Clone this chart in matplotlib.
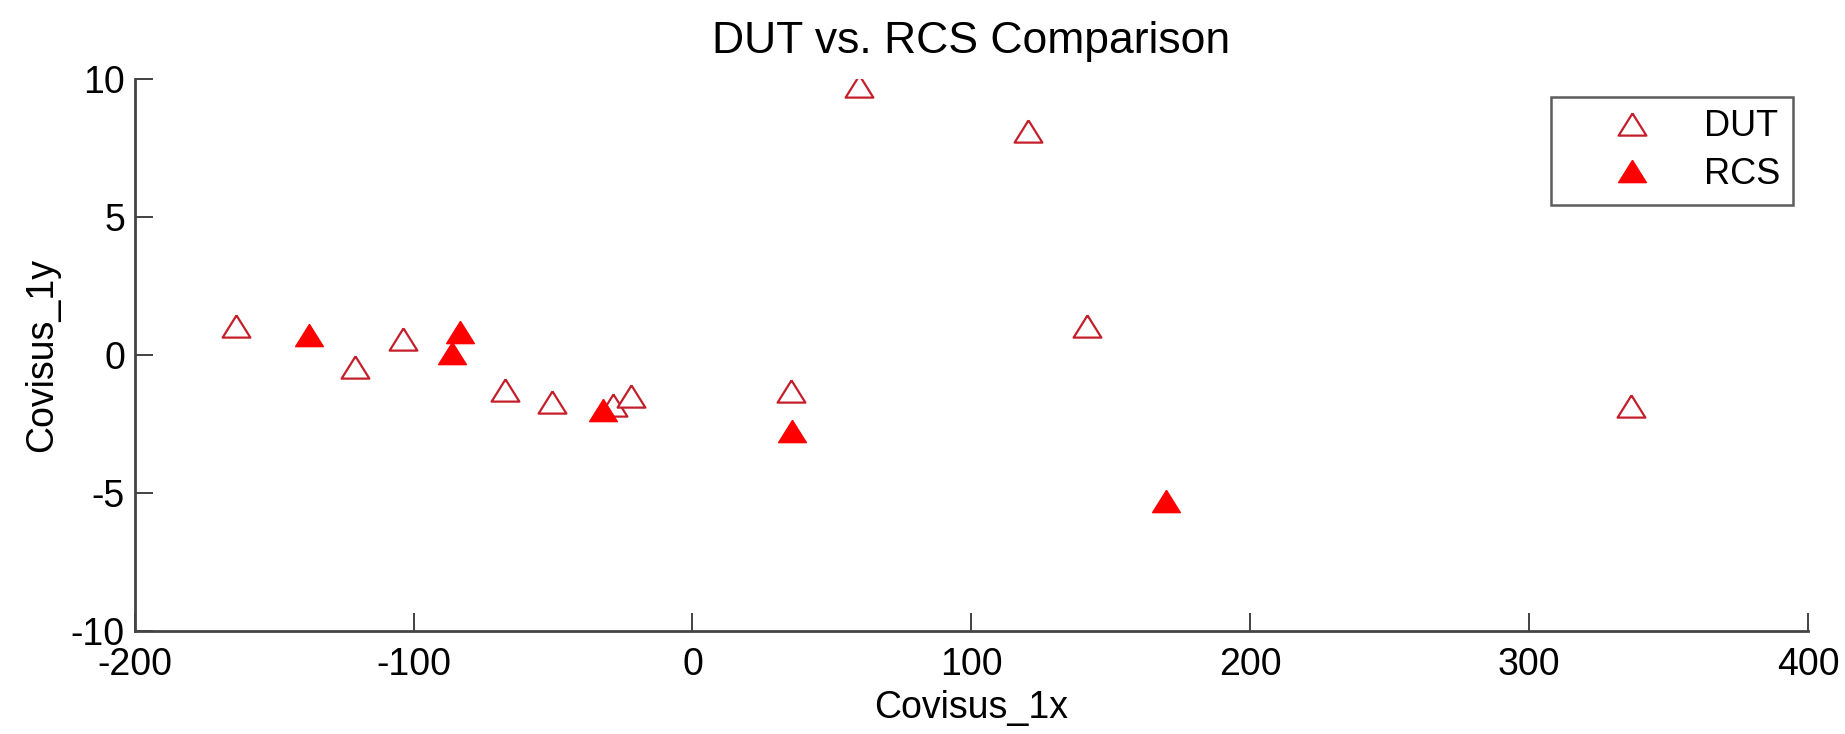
import matplotlib
matplotlib.use("Agg")
import matplotlib.pyplot as plt

# Data
dut_x = [-163.6, -121.0, -103.7, -67.3, -50.5, -28.4, -22.2, 35.2, 59.7, 120.3, 141.3, 336.6]
dut_y = [1.05, -0.45, 0.58, -1.26, -1.70, -1.80, -1.50, -1.30, 9.74, 8.11, 1.04, -1.84]
rcs_x = [-137.6, -83.4, -86.1, -32.0, 35.8, 169.8]
rcs_y = [0.71, 0.83, 0.08, -2.01, -2.75, -5.31]

x_ticks = [-200, -100, 0, 100, 200, 300, 400]
y_ticks = [-10, -5, 0, 5, 10]

plt.rcParams['font.family'] = ['Liberation Sans', 'DejaVu Sans']
plt.rcParams['axes.unicode_minus'] = False
FS = 27

fig = plt.figure(figsize=(18.45, 7.34), dpi=100)
ax = fig.add_axes([0.073, 0.1407, 0.907, 0.7517])

tri = [(0, 0.8), (-1, -0.8), (1, -0.8), (0, 0.8)]
ax.plot(dut_x, dut_y, linestyle='none', marker=tri, markersize=20,
        markerfacecolor='white', markeredgecolor='#c41e2a', markeredgewidth=1.6, label='DUT')
ax.plot(rcs_x, rcs_y, linestyle='none', marker=tri, markersize=20,
        markerfacecolor='#ff0000', markeredgecolor='#ff0000', markeredgewidth=1.0, label='RCS')

ax.set_xlim(-200, 400)
ax.set_ylim(-10, 10)
ax.set_xticks(x_ticks)
ax.set_yticks(y_ticks)
ax.tick_params(direction='in', length=13, width=1.2, colors='#222222',
               labelsize=FS, labelcolor='black')
ax.tick_params(axis='x', pad=12)
ax.tick_params(axis='y', pad=7)

for s in ['top', 'right']:
    ax.spines[s].set_visible(False)
for s in ['left', 'bottom']:
    ax.spines[s].set_linewidth(2.0)
    ax.spines[s].set_color('#444444')

ax.set_title('DUT vs. RCS Comparison', fontsize=32, pad=19)
ax.set_xlabel('Covisus_1x', fontsize=FS, labelpad=5)
ax.set_ylabel('Covisus_1y', fontsize=FS, labelpad=8)

leg = ax.legend(loc='upper right', bbox_to_anchor=(0.991, 0.968), fontsize=26,
                frameon=True, fancybox=False, borderpad=0.35, handlelength=3.8,
                handletextpad=0.1, labelspacing=0.35, numpoints=1, borderaxespad=0)
leg.get_frame().set_edgecolor('#333333')
leg.get_frame().set_linewidth(1.8)

fig.savefig('out.png', dpi=100)
